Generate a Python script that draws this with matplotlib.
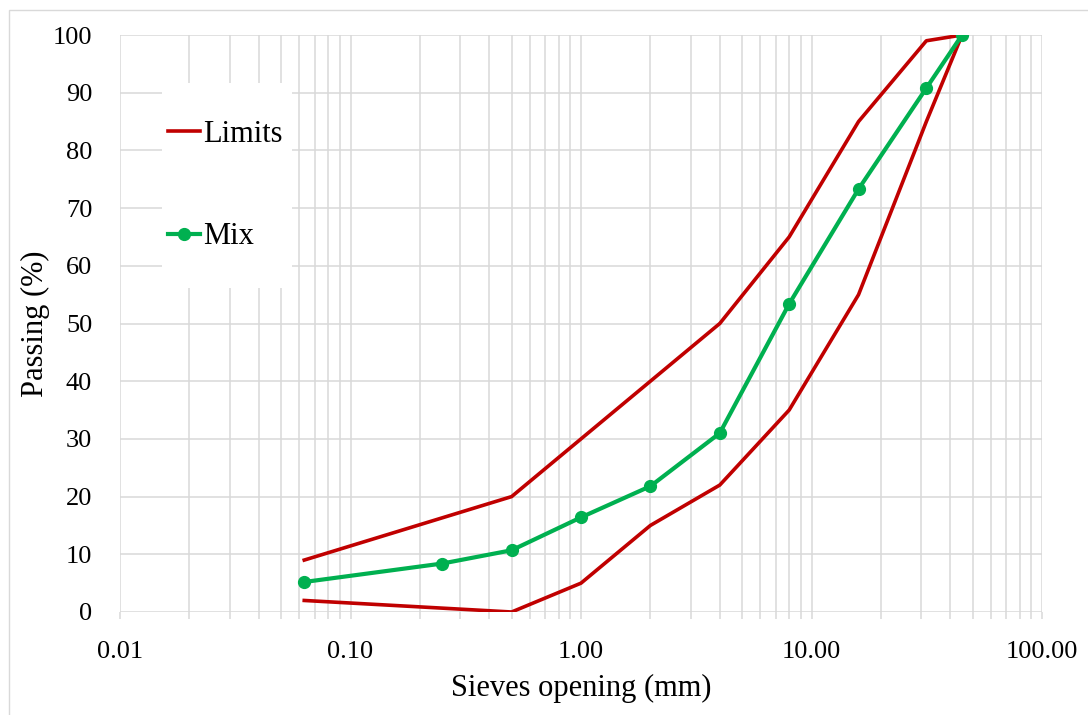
import numpy as np
import matplotlib
matplotlib.use("Agg")
import matplotlib.pyplot as plt
from matplotlib.patches import Rectangle
from matplotlib.ticker import FixedLocator, FuncFormatter, NullFormatter

# sieve sizes (mm) and passing (%)
sieves = [0.063, 0.5, 1, 2, 4, 8, 16, 31.5, 45]
upper_limit = [9, 20, 30, 40, 50, 65, 85, 99, 100]
lower_limit = [2, 0, 5, 15, 22, 35, 55, 85, 100]

mix_sieves = [0.063, 0.25, 0.5, 1, 2, 4, 8, 16, 31.5, 45]
mix_passing = [5.2, 8.4, 10.7, 16.4, 21.8, 31.0, 53.4, 73.3, 90.8, 100]

x_ticks = [0.01, 0.1, 1, 10, 100]
y_ticks = list(range(0, 101, 10))

red = "#C00000"
green = "#00B050"
grid_col = "#D9D9D9"

plt.rcParams["font.family"] = ["Liberation Serif", "DejaVu Serif"]

fig = plt.figure(figsize=(10.88, 7.15), dpi=100)
ax = fig.add_axes([120 / 1088, 1 - 612 / 715, 922 / 1088, 577 / 715])

# outer chart border
fig.patches.append(Rectangle((9 / 1088, -0.1), 1.2, 1 - 10 / 715 + 0.1, transform=fig.transFigure,
                             fill=False, edgecolor=grid_col, lw=1.0))

ax.plot(sieves, upper_limit, color=red, lw=2.6, zorder=4, label="Limits")
ax.plot(sieves, lower_limit, color=red, lw=2.6, zorder=4)
ax.plot(mix_sieves, mix_passing, color=green, lw=3, marker="o", ms=8.5, zorder=5, label="Mix")

ax.set_xscale("log")
ax.set_xlim(0.01, 100)
ax.set_ylim(0, 100)

minor = [m * 10.0 ** e for e in range(-2, 2) for m in range(2, 10)]
ax.xaxis.set_major_locator(FixedLocator(x_ticks))
ax.xaxis.set_minor_locator(FixedLocator(minor))
ax.xaxis.set_major_formatter(FuncFormatter(lambda v, p: "%.2f" % v))
ax.xaxis.set_minor_formatter(NullFormatter())
ax.set_yticks(y_ticks)

ax.grid(True, which="both", axis="x", color=grid_col, lw=1.1, zorder=0)
ax.grid(True, which="major", axis="y", color=grid_col, lw=1.1, zorder=0)
ax.set_axisbelow(True)
for s in ax.spines.values():
    s.set_visible(False)

ax.tick_params(axis="x", which="both", length=5, width=1.1, color=grid_col, pad=16, labelsize=19)
ax.tick_params(axis="y", length=0, pad=20, labelsize=19)

ax.set_xlabel("Sieves opening (mm)", fontsize=22, labelpad=8)
ax.set_ylabel("Passing (%)", fontsize=22, labelpad=2)

# legend background box
ax.add_patch(Rectangle((42 / 922, (612 - 288) / 577), 130 / 922, 205 / 577, transform=ax.transAxes,
                       facecolor="white", edgecolor="none", zorder=2))
leg = ax.legend(loc="upper left", bbox_to_anchor=(48 / 922, (612 - 120) / 577), frameon=False,
                fontsize=22, handlelength=1.05, handletextpad=0.1, labelspacing=2.4,
                borderpad=0, borderaxespad=0)
leg.set_zorder(6)

fig.savefig("out.png", dpi=100)
